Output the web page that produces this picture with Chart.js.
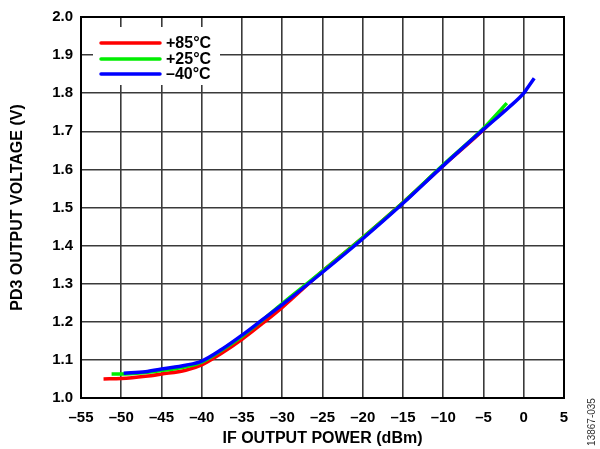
<!DOCTYPE html>
<html>
<head>
<meta charset="utf-8">
<script src="https://cdn.jsdelivr.net/npm/chart.js@4.4.0/dist/chart.umd.min.js"></script>
<style>
  html, body { margin: 0; padding: 0; background: #fff; }
  #wrap { width: 600px; height: 449px; }
</style>
</head>
<body>
<div id="wrap"><canvas id="chart" width="600" height="449"></canvas></div>
<script>
// IF output power (dBm) and PD3 output voltage (V)
const power85 = [-52.2, -50, -47, -45, -42, -40, -37.5, -35, -32.5, -30, -25, -20, -15, -10, -5, -2.5];
const volt85 = [1.050, 1.051, 1.057, 1.063, 1.073, 1.087, 1.118, 1.154, 1.195, 1.238, 1.333, 1.421, 1.513, 1.610, 1.704, 1.758];

const power25 = [-51.2, -50, -47, -45, -42, -40, -37.5, -35, -32.5, -30, -25, -20, -15, -10, -5, -2.1];
const volt25 = [1.063, 1.063, 1.067, 1.072, 1.082, 1.094, 1.126, 1.162, 1.204, 1.248, 1.333, 1.421, 1.513, 1.612, 1.708, 1.774];

const powerM40 = [-49.7, -47, -45, -42, -40, -37.5, -35, -32.5, -30, -25, -20, -15, -10, -5, -2, 0, 0.5, 1.3];
const voltM40 = [1.065, 1.069, 1.076, 1.086, 1.097, 1.128, 1.165, 1.205, 1.245, 1.330, 1.418, 1.511, 1.610, 1.705, 1.760, 1.800, 1.815, 1.839];

const seriesLabels = ['+85°C', '+25°C', '–40°C'];
const seriesColors = ['#ff0000', '#00ee00', '#0000ff'];

const FONT = '"Liberation Sans", Arial, Helvetica, sans-serif';

const toPoints = (xs, ys) => xs.map((x, i) => ({x: x, y: ys[i]}));

// frame on all four sides + legend box + figure number
const extras = {
    id: 'extras',
    afterDatasetsDraw(chart) {
        const ctx = chart.ctx;
        const a = chart.chartArea;
        ctx.save();
        ctx.strokeStyle = '#000';
        ctx.lineWidth = 2;
        ctx.strokeRect(a.left, a.top, a.right - a.left, a.bottom - a.top);

        // legend
        ctx.fillStyle = '#fff';
        ctx.fillRect(93, 27, 127, 58);
        const rows = [43, 59, 74];
        ctx.lineWidth = 3.5;
        ctx.lineCap = 'round';
        ctx.font = 'bold 16px ' + FONT;
        ctx.textBaseline = 'middle';
        rows.forEach((y, i) => {
            ctx.strokeStyle = seriesColors[i];
            ctx.beginPath();
            ctx.moveTo(101, y);
            ctx.lineTo(160, y);
            ctx.stroke();
            ctx.fillStyle = '#000';
            ctx.fillText(seriesLabels[i], 166, y + 1);
        });

        // figure id at the right edge
        ctx.translate(592, 422);
        ctx.rotate(-Math.PI / 2);
        ctx.font = '10px ' + FONT;
        ctx.fillStyle = '#333';
        ctx.textAlign = 'center';
        ctx.fillText('13867-035', 0, 0);
        ctx.restore();
    }
};

const ctx = document.getElementById('chart').getContext('2d');
new Chart(ctx, {
    type: 'line',
    data: {
        datasets: [
            {
                label: seriesLabels[0],
                data: toPoints(power85, volt85),
                borderColor: seriesColors[0],
                order: 3
            },
            {
                label: seriesLabels[1],
                data: toPoints(power25, volt25),
                borderColor: seriesColors[1],
                order: 2
            },
            {
                label: seriesLabels[2],
                data: toPoints(powerM40, voltM40),
                borderColor: seriesColors[2],
                order: 1
            }
        ]
    },
    options: {
        responsive: false,
        animation: false,
        layout: {
            padding: {top: 13, right: 36, left: 0, bottom: 0}
        },
        elements: {
            point: {radius: 0},
            line: {borderWidth: 3.5, cubicInterpolationMode: 'monotone', fill: false}
        },
        plugins: {
            legend: {display: false},
            tooltip: {enabled: false}
        },
        scales: {
            x: {
                type: 'linear',
                min: -55,
                max: 5,
                afterFit: (s) => { s.height = 51; },
                grid: {color: '#3a3a3a', lineWidth: 1.6, drawTicks: false},
                border: {color: '#000', width: 2},
                ticks: {
                    stepSize: 5,
                    padding: 11,
                    color: '#000',
                    font: {family: FONT, size: 15, weight: 'bold'},
                    callback: (v) => v < 0 ? '–' + Math.abs(v) : String(v)
                },
                title: {
                    display: true,
                    text: 'IF OUTPUT POWER (dBm)',
                    color: '#000',
                    font: {family: FONT, size: 16, weight: 'bold'},
                    padding: {top: 0, bottom: 1}
                }
            },
            y: {
                type: 'linear',
                min: 1.0,
                max: 2.0,
                afterFit: (s) => { s.width = 81; },
                grid: {color: '#3a3a3a', lineWidth: 1.6, drawTicks: false},
                border: {color: '#000', width: 2},
                ticks: {
                    stepSize: 0.1,
                    padding: 8,
                    color: '#000',
                    font: {family: FONT, size: 15, weight: 'bold'},
                    callback: (v) => v.toFixed(1)
                },
                title: {
                    display: true,
                    text: 'PD3 OUTPUT VOLTAGE (V)',
                    color: '#000',
                    font: {family: FONT, size: 16, weight: 'bold'},
                    padding: {top: 8, bottom: 0}
                }
            }
        }
    },
    plugins: [extras]
});
</script>
</body>
</html>
